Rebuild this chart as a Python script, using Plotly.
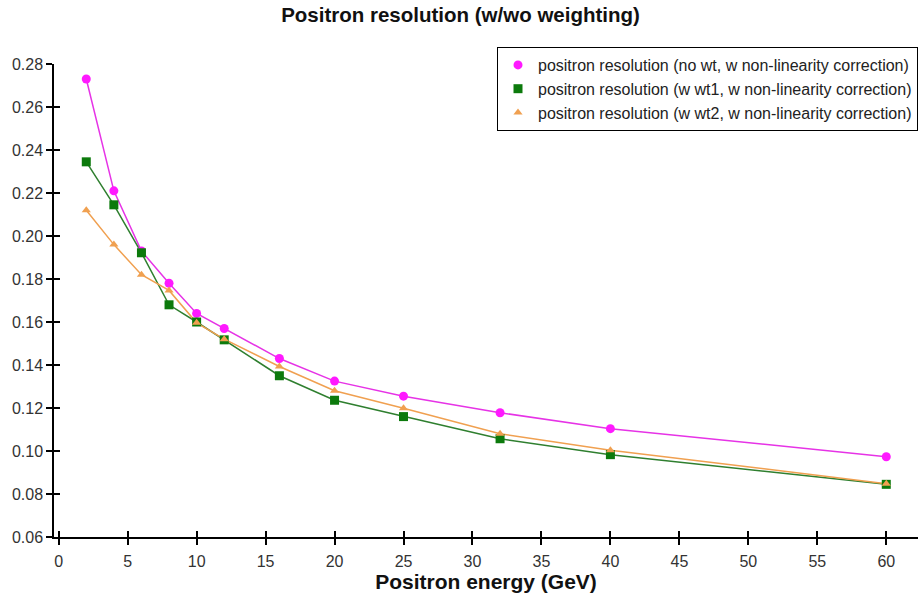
import plotly.graph_objects as go

energy = [2, 4, 6, 8, 10, 12, 16, 20, 25, 32, 40, 60]
res_no_wt = [0.273, 0.221, 0.193, 0.178, 0.164, 0.157, 0.143, 0.1325, 0.1255, 0.1178, 0.1104, 0.0973]
res_wt1 = [0.2345, 0.2145, 0.1922, 0.168, 0.160, 0.1517, 0.135, 0.1236, 0.116, 0.1057, 0.0983, 0.0845]
res_wt2 = [0.212, 0.196, 0.182, 0.1747, 0.1596, 0.152, 0.1393, 0.128, 0.1199, 0.108, 0.1004, 0.0848]

names = [
    "positron resolution (no wt, w non-linearity correction)",
    "positron resolution (w wt1, w non-linearity correction)",
    "positron resolution (w wt2, w non-linearity correction)",
]
series = [res_no_wt, res_wt1, res_wt2]
line_colors = ["#e633e6", "#2f7f2f", "#f0a050"]
marker_colors = ["#ff19ff", "#0c7a0c", "#f0a050"]
symbols = ["circle", "square", "triangle-up"]
msizes = [9, 9, 8]

FONT = "Liberation Sans, Arial, sans-serif"

fig = go.Figure()
for ys, lc in zip(series, line_colors):
    fig.add_trace(go.Scatter(x=energy, y=ys, mode="lines", line=dict(color=lc, width=1.5),
                             showlegend=False, hoverinfo="skip"))
for ys, name, mc, sym, ms in zip(series, names, marker_colors, symbols, msizes):
    fig.add_trace(go.Scatter(x=energy, y=ys, mode="markers", name=name, xaxis="x2", yaxis="y2",
                             marker=dict(color=mc, symbol=sym, size=ms, line=dict(width=0))))

xr = [-0.34, 62.3]
yr = [0.06, 0.28]
xt = list(range(0, 61, 5))
yt = [0.06, 0.08, 0.10, 0.12, 0.14, 0.16, 0.18, 0.20, 0.22, 0.24, 0.26, 0.28]
tick_common = dict(showgrid=False, zeroline=False, tickcolor="black", tickwidth=1.5, ticklen=6)

fig.update_layout(
    width=921, height=599,
    margin=dict(l=54, r=3, t=64, b=62),
    paper_bgcolor="white", plot_bgcolor="white",
    font=dict(family=FONT, color="#222"),
    title=dict(text="<b>Positron resolution (w/wo weighting)</b>", x=0.5, xanchor="center",
               y=1 - 15 / 599, yanchor="middle", font=dict(size=20.5, color="#111")),
    xaxis=dict(range=xr, tickvals=xt, ticks="outside", showline=True, linecolor="black", linewidth=1.5,
               tickfont=dict(size=16, color="#333"), ticklabelstandoff=3,
               title=dict(text="<b>Positron energy (GeV)</b>", font=dict(size=21, color="#111"),
                          standoff=5),
               **tick_common),
    yaxis=dict(range=yr, tickvals=yt, tickformat=".2f", ticks="outside", showline=True,
               linecolor="black", linewidth=1.5,
               tickfont=dict(size=16, color="#333"), **tick_common),
    xaxis2=dict(range=xr, overlaying="x", anchor="y2", side="bottom", ticks="inside",
                tickvals=xt, showticklabels=False, showline=False, **tick_common),
    yaxis2=dict(range=yr, overlaying="y", anchor="x2", side="left", ticks="inside",
                tickvals=yt, showticklabels=False, showline=False, **tick_common),
    legend=dict(x=1.0, xanchor="right", y=1 + 17 / 473, yanchor="top",
                bordercolor="black", borderwidth=1, bgcolor="white",
                font=dict(size=16, color="#222"), valign="top", tracegroupgap=0),
    showlegend=True,
)

fig.write_html("out.html")
